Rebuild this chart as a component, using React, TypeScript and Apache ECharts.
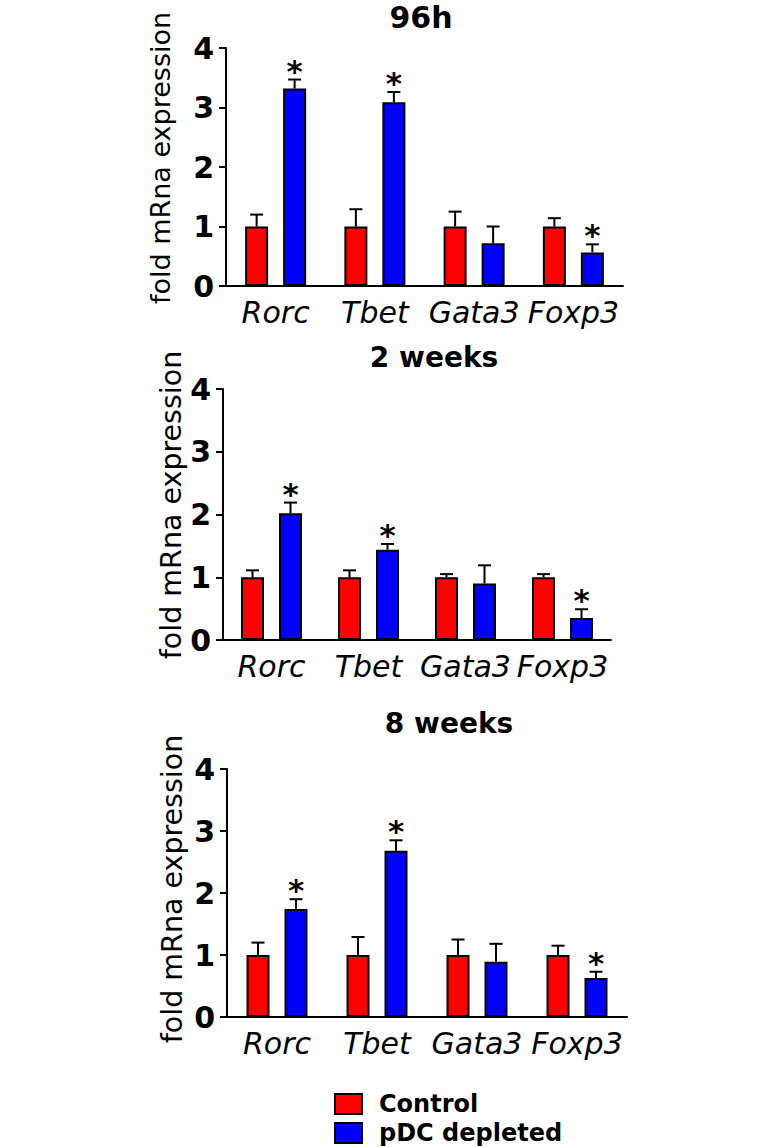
import React, { useEffect, useRef } from "react";
import * as echarts from "echarts";

const categories = ["Rorc", "Tbet", "Gata3", "Foxp3"];
const panelTitles = ["96h", "2 weeks", "8 weeks"];
const seriesNames = ["Control", "pDC depleted"];
const yTicks = [0, 1, 2, 3, 4];
const yAxisTitle = "fold mRna expression";

// 96h
const h96Control = [1, 1, 1, 1];
const h96ControlErr = [0.2, 0.29, 0.25, 0.14];
const h96Depleted = [3.32, 3.09, 0.72, 0.565];
const h96DepletedErr = [0.15, 0.17, 0.28, 0.135];
const h96Sig = [true, true, false, true];

// 2 weeks
const w2Control = [1, 1, 1, 1];
const w2ControlErr = [0.11, 0.11, 0.05, 0.05];
const w2Depleted = [2.02, 1.44, 0.9, 0.35];
const w2DepletedErr = [0.17, 0.09, 0.29, 0.14];
const w2Sig = [true, true, false, true];

// 8 weeks
const w8Control = [1, 1, 1, 1];
const w8ControlErr = [0.2, 0.29, 0.25, 0.15];
const w8Depleted = [1.74, 2.68, 0.89, 0.63];
const w8DepletedErr = [0.16, 0.17, 0.29, 0.1];
const w8Sig = [true, true, false, true];

const panels = [
  { control: h96Control, controlErr: h96ControlErr, depleted: h96Depleted, depletedErr: h96DepletedErr, sig: h96Sig },
  { control: w2Control, controlErr: w2ControlErr, depleted: w2Depleted, depletedErr: w2DepletedErr, sig: w2Sig },
  { control: w8Control, controlErr: w8ControlErr, depleted: w8Depleted, depletedErr: w8DepletedErr, sig: w8Sig },
];

const FONT = "'DejaVu Sans', Verdana, sans-serif";
const RED = "#ff0000";
const BLUE = "#0000ff";
const BAR_W = 23;
const GAP_PX = 15;
const OFFSET = (BAR_W + GAP_PX) / 2;
const CAP = 6.5;

const grids = [
  { left: 226, top: 48, width: 397, height: 238 },
  { left: 223, top: 389, width: 388, height: 251 },
  { left: 227, top: 769, width: 400, height: 248 },
];
const titleStyle = [
  { x: 421, y: 17, size: 30 },
  { x: 434, y: 357, size: 28 },
  { x: 449, y: 723, size: 28 },
];
const yTitleStyle = [
  { x: 160, y: 158, size: 27 },
  { x: 171, y: 505, size: 28.5 },
  { x: 172, y: 889, size: 28.5 },
];

function makeErrRender(offset: number) {
  return (params: any, api: any) => {
    const idx = api.value(0);
    const v = api.value(1);
    const e = api.value(2);
    const sig = api.value(3);
    const base = api.coord([idx, v]);
    const top = api.coord([idx, v + e]);
    const x = base[0] + offset;
    const children: any[] = [
      { type: "line", shape: { x1: x, y1: base[1], x2: x, y2: top[1] }, style: { stroke: "#000", lineWidth: 2 } },
      { type: "line", shape: { x1: x - CAP, y1: top[1], x2: x + CAP, y2: top[1] }, style: { stroke: "#000", lineWidth: 2 } },
    ];
    if (sig) {
      children.push({
        type: "text",
        x: x,
        y: top[1] - 9,
        style: {
          text: "*",
          fill: "#000",
          font: `bold 31px ${FONT}`,
          align: "center",
          verticalAlign: "middle",
        },
      });
    }
    return { type: "group", children };
  };
}

export default function App() {
  const ref = useRef<HTMLDivElement>(null);
  useEffect(() => {
    document.body.style.margin = "0";
    if (!ref.current) return;
    const chart = echarts.init(ref.current, undefined, { renderer: "svg" });

    const xAxes: any[] = [];
    const yAxes: any[] = [];
    const series: any[] = [];

    panels.forEach((p, i) => {
      xAxes.push({
        type: "category",
        gridIndex: i,
        data: categories,
        boundaryGap: true,
        axisLine: { lineStyle: { color: "#000", width: 2 } },
        axisTick: { alignWithLabel: true, length: 7, lineStyle: { color: "#000", width: 2 } },
        axisLabel: {
          color: "#000",
          fontSize: 30,
          fontStyle: "italic",
          fontFamily: FONT,
          margin: 11,
          interval: 0,
        },
        splitLine: { show: false },
      });
      yAxes.push({
        type: "value",
        gridIndex: i,
        min: yTicks[0],
        max: yTicks[yTicks.length - 1],
        interval: 1,
        axisLine: { show: true, lineStyle: { color: "#000", width: 2 } },
        axisTick: { show: true, length: 7, lineStyle: { color: "#000", width: 2 } },
        axisLabel: { color: "#000", fontSize: 30, fontWeight: "bold", fontFamily: FONT, margin: 12 },
        splitLine: { show: false },
      });
      const barCommon = {
        type: "bar",
        xAxisIndex: i,
        yAxisIndex: i,
        barWidth: BAR_W,
        barGap: `${(GAP_PX / BAR_W) * 100}%`,
      };
      series.push({
        ...barCommon,
        name: seriesNames[0],
        data: p.control,
        itemStyle: { color: RED, borderColor: "#000", borderWidth: 2 },
      });
      series.push({
        ...barCommon,
        name: seriesNames[1],
        data: p.depleted,
        itemStyle: { color: BLUE, borderColor: "#000", borderWidth: 2 },
      });
      series.push({
        type: "custom",
        xAxisIndex: i,
        yAxisIndex: i,
        encode: { x: 0, y: 1 },
        renderItem: makeErrRender(-OFFSET),
        data: categories.map((c, k) => [k, p.control[k], p.controlErr[k], 0]),
        z: 5,
        silent: true,
      });
      series.push({
        type: "custom",
        xAxisIndex: i,
        yAxisIndex: i,
        encode: { x: 0, y: 1 },
        renderItem: makeErrRender(OFFSET),
        data: categories.map((c, k) => [k, p.depleted[k], p.depletedErr[k], p.sig[k] ? 1 : 0]),
        z: 5,
        silent: true,
      });
    });

    const titles = panelTitles.map((t, i) => ({
      type: "text",
      x: titleStyle[i].x,
      y: titleStyle[i].y,
      style: {
        text: t,
        fill: "#000",
        font: `bold ${titleStyle[i].size}px ${FONT}`,
        align: "center",
        verticalAlign: "middle",
      },
    }));
    const yTitles = yTitleStyle.map((s) => ({
      type: "text",
      x: s.x,
      y: s.y,
      rotation: Math.PI / 2,
      style: {
        text: yAxisTitle,
        fill: "#000",
        font: `${s.size}px ${FONT}`,
        align: "center",
        verticalAlign: "middle",
      },
    }));

    const option: any = {
      animation: false,
      backgroundColor: "#ffffff",
      grid: grids,
      xAxis: xAxes,
      yAxis: yAxes,
      series,
      legend: {
        data: seriesNames,
        orient: "vertical",
        left: 334,
        top: 1092,
        height: 55,
        padding: 0,
        icon: "rect",
        itemWidth: 27,
        itemHeight: 20,
        itemGap: 5,
        textStyle: {
          color: "#000",
          fontSize: 24,
          lineHeight: 22,
          fontWeight: "bold",
          fontFamily: FONT,
          padding: [0, 0, 0, 12],
        },
        selectedMode: false,
      },
      graphic: [...titles, ...yTitles],
    };
    chart.setOption(option);
    return () => chart.dispose();
  }, []);
  return <div ref={ref} style={{ width: 775, height: 1147 }} />;
}
